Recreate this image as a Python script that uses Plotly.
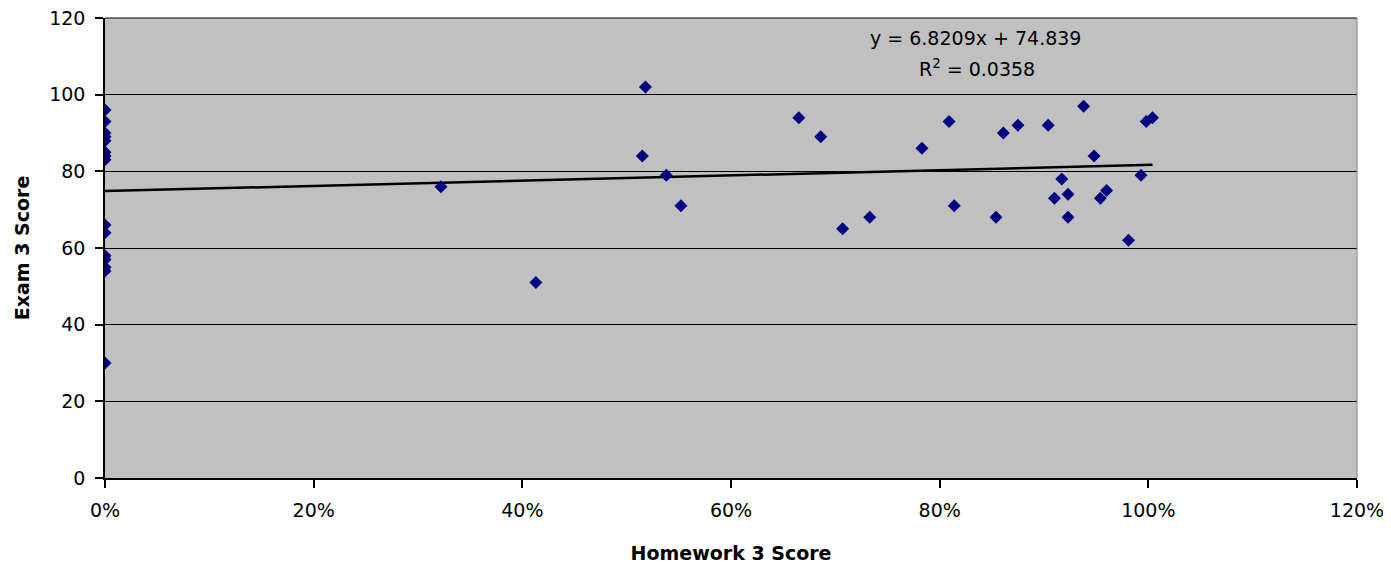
import plotly.graph_objects as go

# Homework 3 score (fraction) and Exam 3 score
homework = [0, 0, 0, 0, 0, 0, 0, 0, 0, 0, 0, 0, 0, 0, 0,
            0.322, 0.413, 0.518, 0.515, 0.538, 0.552, 0.665, 0.686, 0.707, 0.733,
            0.783, 0.809, 0.814, 0.854, 0.861, 0.875, 0.904, 0.910, 0.917, 0.923,
            0.923, 0.938, 0.948, 0.954, 0.960, 0.981, 0.993, 0.998, 1.004]
exam = [96, 93, 90, 89, 88, 85, 84, 83, 66, 64, 58, 57, 55, 54, 30,
        76, 51, 102, 84, 79, 71, 94, 89, 65, 68,
        86, 93, 71, 68, 90, 92, 92, 73, 78, 74,
        68, 97, 84, 73, 75, 62, 79, 93, 94]

slope = 6.8209
intercept = 74.839
r_squared = 0.0358

trend_x = [0, max(homework)]
trend_y = [intercept + slope * v for v in trend_x]

y_ticks = [0, 20, 40, 60, 80, 100, 120]
x_ticks = [0, 0.2, 0.4, 0.6, 0.8, 1.0, 1.2]
x_tick_labels = ["0%", "20%", "40%", "60%", "80%", "100%", "120%"]

FONT = "DejaVu Sans, Verdana, sans-serif"

fig = go.Figure()
fig.add_trace(go.Scatter(
    x=trend_x, y=trend_y, mode="lines",
    line=dict(color="black", width=2.5), hoverinfo="skip", showlegend=False))
fig.add_trace(go.Scatter(
    x=homework, y=exam, mode="markers",
    marker=dict(symbol="diamond", size=10, color="#000080",
                line=dict(width=0)),
    showlegend=False))

fig.add_annotation(
    x=0.834, y=114.8, xref="x", yref="y",
    text=f"y = {slope}x + {intercept}",
    showarrow=False, align="center",
    font=dict(family=FONT, size=19, color="black"))
fig.add_annotation(
    x=0.836, y=107.0, xref="x", yref="y",
    text=f"R<sup>2</sup> = {r_squared}",
    showarrow=False, align="center",
    font=dict(family=FONT, size=19, color="black"))

fig.update_layout(
    width=1391, height=568,
    margin=dict(l=97, r=42, t=10, b=98, autoexpand=False),
    paper_bgcolor="white", plot_bgcolor="#C0C0C0",
    font=dict(family=FONT, size=19, color="black"),
    xaxis=dict(
        range=[0, 1.2], tickvals=x_ticks, ticktext=x_tick_labels,
        showgrid=False, zeroline=False, automargin=False,
        showline=True, linecolor="black", linewidth=1.5,
        ticks="outside", ticklen=8, tickcolor="black", tickwidth=1.5,
        ticklabelstandoff=6, ticklabeloverflow="allow",
        title=dict(text="<b>Homework 3 Score</b>", standoff=27,
                   font=dict(size=19)),
        mirror=False),
    yaxis=dict(
        range=[0, 120], tickvals=y_ticks,
        showgrid=True, gridcolor="black", gridwidth=1.2,
        zeroline=False, automargin=False,
        showline=True, linecolor="black", linewidth=1.5,
        ticks="outside", ticklen=8, tickcolor="black", tickwidth=1.5,
        ticklabelstandoff=6, ticklabeloverflow="allow",
        title=dict(text="<b>Exam 3 Score</b>", standoff=15,
                   font=dict(size=19))),
)
# top border (120 gridline) and thin gray right border of plot area
fig.add_shape(type="line", xref="paper", yref="paper",
              x0=0, x1=1, y0=1, y1=1, line=dict(color="black", width=1.2))
fig.add_shape(type="line", xref="paper", yref="paper",
              x0=1, x1=1, y0=0, y1=1, line=dict(color="#808080", width=1))

fig.write_html("out.html")
